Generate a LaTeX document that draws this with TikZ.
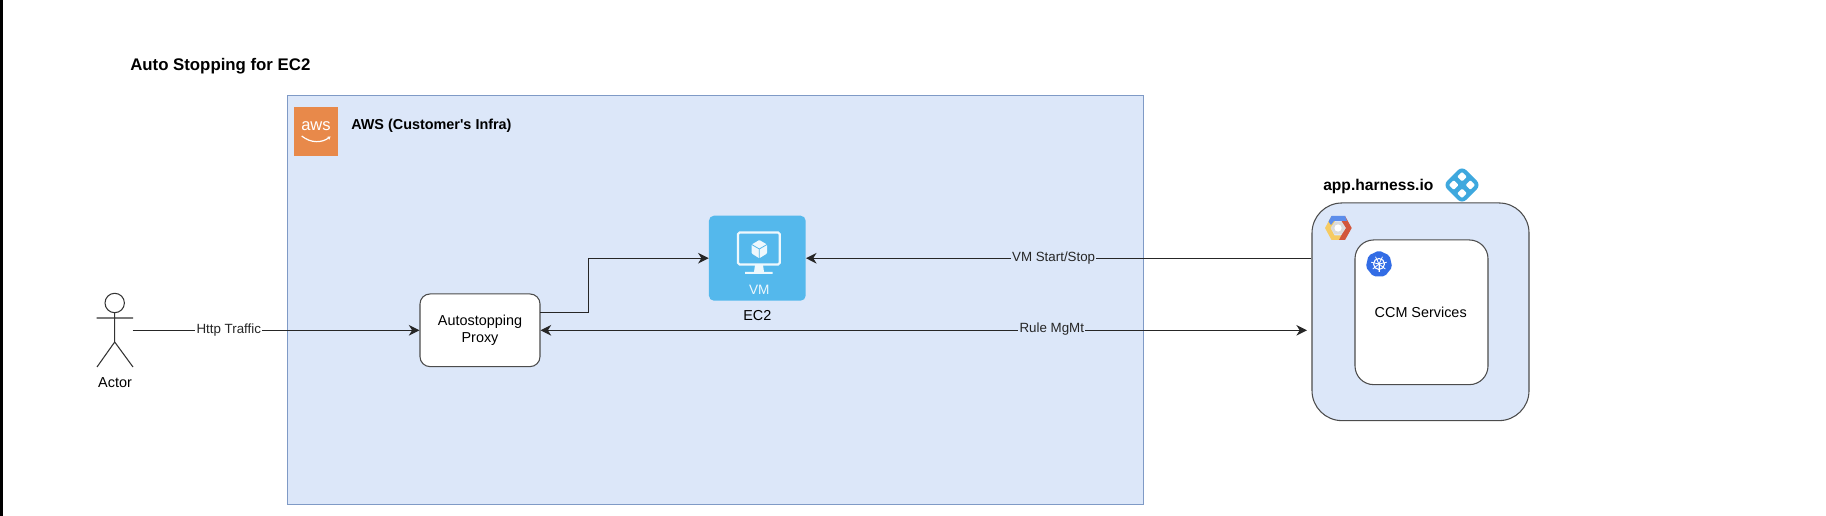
\documentclass[tikz,border=0pt]{standalone}
\usepackage{fontspec}
\setmainfont{Liberation Sans}
\usetikzlibrary{arrows.meta,calc,positioning}
\definecolor{boxblue}{HTML}{DCE7F9}
\definecolor{boxedge}{HTML}{7F9AC6}
\definecolor{vmblue}{HTML}{54B8EC}
\definecolor{awsorange}{HTML}{E8894A}
\definecolor{harnessblue}{HTML}{3EA8DE}
\definecolor{kubeblue}{HTML}{326CE5}
\definecolor{gcpblue}{HTML}{5C8DEB}
\definecolor{gcpred}{HTML}{D2563C}
\definecolor{gcpyellow}{HTML}{F6CB62}
\tikzset{
  flow/.style={-{Stealth[length=8pt,width=8pt,inset=2.5pt]}, line width=0.85pt, color=black!85},
  lab/.style={inner sep=1pt, font=\fontsize{10}{12}\selectfont},
  txt/.style={inner sep=0pt, align=center, font=\fontsize{10.8}{12.8}\selectfont},
  head/.style={inner sep=0pt, anchor=west, font=\bfseries\fontsize{10.8}{13}\selectfont},
  roundbox/.style={draw=black!70, line width=0.8pt, inner sep=0pt}
}
\begin{document}
\begin{tikzpicture}[x=0.75pt,y=-0.75pt]
\useasboundingbox (0,0) rectangle (1826,516);
\fill[black] (0,0) rectangle (2.5,516);
\node[head, font=\bfseries\fontsize{12.6}{15}\selectfont] (title) at (130,66) {Auto Stopping for EC2};
% AWS side
\node[draw=boxedge, fill=boxblue, line width=0.7pt, minimum width=642pt, minimum height=306.75pt, inner sep=0pt] (aws) at (715,299.5) {};
\node[fill=awsorange, minimum width=33pt, minimum height=37pt, inner sep=0pt] (awsicon) at (316,131.5) {};
\node[inner sep=0pt, text=white, font=\fontsize{12.4}{14}\selectfont] (awstext) at (316,126) {aws};
\draw[white, line width=0.9pt, -{Stealth[length=2.5pt,width=3pt]}] (301.7,136) .. controls (311,143.5) and (322,143) .. (330.5,136.5);
\node[head] (awslabel) at (351,126) {AWS (Customer\textquotesingle s Infra)};
\node[roundbox, fill=white, rounded corners=7.5pt, minimum width=90pt, minimum height=54.5pt, txt] (proxy) at (480,330.3) {Autostopping\\Proxy};
\node[fill=vmblue, rounded corners=3.75pt, minimum width=72.5pt, minimum height=63.75pt, inner sep=0pt] (vm) at (757.3,258.2) {};
\node[txt, text=white!90!vmblue, font=\fontsize{10.2}{12}\selectfont] (vmtext) at (759.3,290) {VM};
\node[txt] (ec2) at (757.3,316) {EC2};
% monitor and cube
\draw[white!90!vmblue, line width=1.7pt, rounded corners=1.2pt] (738,232.5) rectangle (779.7,264.5);
\fill[white!90!vmblue] (755,265) -- (763,265) -- (764,272) -- (772.7,272) -- (772.7,274) -- (745,274) -- (745,272) -- (754,272) -- cycle;
\fill[white!90!vmblue, rounded corners=0.6pt] (759.3,240) -- (767,244.5) -- (767,253.5) -- (759.3,258.3) -- (751.7,253.5) -- (751.7,244.5) -- cycle;
\draw[vmblue, line width=0.6pt] (751.7,244.5) -- (759.3,249) -- (767,244.5) (759.3,249) -- (759.3,258.3);
% actor
\draw[line width=0.8pt, color=black!80] (114.7,303) circle (9.7);
\draw[line width=0.8pt, color=black!80] (114.7,312.7) -- (114.7,342) (96.7,318) -- (133,318) (97,367) -- (114.7,342) -- (133,367);
\node[txt] (actor) at (115,383) {Actor};
\coordinate (actorport) at (132.7,330.3);
% harness side
\node[roundbox, fill=boxblue, rounded corners=22.5pt, minimum width=162.75pt, minimum height=163.25pt] (harness) at (1420.5,311.8) {};
\node[roundbox, fill=white, rounded corners=14pt, minimum width=99.75pt, minimum height=108.5pt] (ccm) at (1421.5,312.3) {};
\node[txt] (ccmlabel) at (1420.7,312.7) {CCM Services};
\node[head, font=\bfseries\fontsize{11.7}{14}\selectfont] (harnesslabel) at (1323,186.5) {app.harness.io};
% harness logo
\fill[harnessblue, rounded corners=4.5pt] (1462,166) -- (1481,185) -- (1462,204) -- (1443,185) -- cycle;
\foreach \dx/\dy in {0/-8.3,0/8.3,-8.3/0,8.3/0}
  \fill[white, rounded corners=0.8pt] (1462+\dx,185+\dy-4.8) -- (1462+\dx+4.8,185+\dy) -- (1462+\dx,185+\dy+4.8) -- (1462+\dx-4.8,185+\dy) -- cycle;
% gcp logo
\fill[black!14] (1331,228) -- (1334.5,222) -- (1341.5,222) -- (1345,228) -- (1341.5,234) -- (1334.5,234) -- cycle;
\fill[white] (1338,228) circle (3.6);
\fill[gcpyellow] (1325,228) -- (1331.5,216) -- (1335,221) -- (1330.5,228) -- (1334.5,235.5) -- (1344,235.5) -- (1345,240) -- (1331.5,240) -- cycle;
\fill[gcpred] (1345,216) -- (1351.7,228) -- (1345,240) -- (1339,240) -- (1341.5,235) -- (1346,228) -- (1341.5,221) -- cycle;
\fill[gcpblue] (1331.5,216) -- (1345,216) -- (1347,221) -- (1334,221) -- (1331,225) -- (1328.5,221.5) -- cycle;
% kubernetes logo
\fill[kubeblue, rounded corners=1.5pt] (1379,250.5) -- ++(10.6,5.1) -- ++(2.6,11.5) -- ++(-7.3,9.2) -- ++(-11.8,0) -- ++(-7.3,-9.2) -- ++(2.6,-11.5) -- cycle;
\draw[white, line width=0.8pt] (1379,264) circle (5.5);
\foreach \a in {90,141.4,...,450}
  \draw[white, line width=0.6pt] (1379,264) -- ++(\a:8);
% connectors
\coordinate (proxyout) at (540,312.4);
\coordinate (elbow) at (588.7,312.4);
\coordinate (rulein) at (1307,330.3);
\draw[flow] (actorport) -- (proxy.west) node[lab, fill=white, pos=0.335] (httplabel) {Http Traffic};
\draw[flow] (proxyout) -- (elbow) -- (elbow |- vm.west) -- (vm.west);
\draw[flow] (vm.east -| harness.west) -- (vm.east) node[lab, fill=boxblue, pos=0.51] (startlabel) {VM Start/Stop};
\draw[flow, {Stealth[length=8pt,width=8pt,inset=2.5pt]}-{Stealth[length=8pt,width=8pt,inset=2.5pt]}] (proxy.east) -- (rulein) node[lab, fill=boxblue, pos=0.667, yshift=1pt] (rulelabel) {Rule MgMt};
\end{tikzpicture}
\end{document}
